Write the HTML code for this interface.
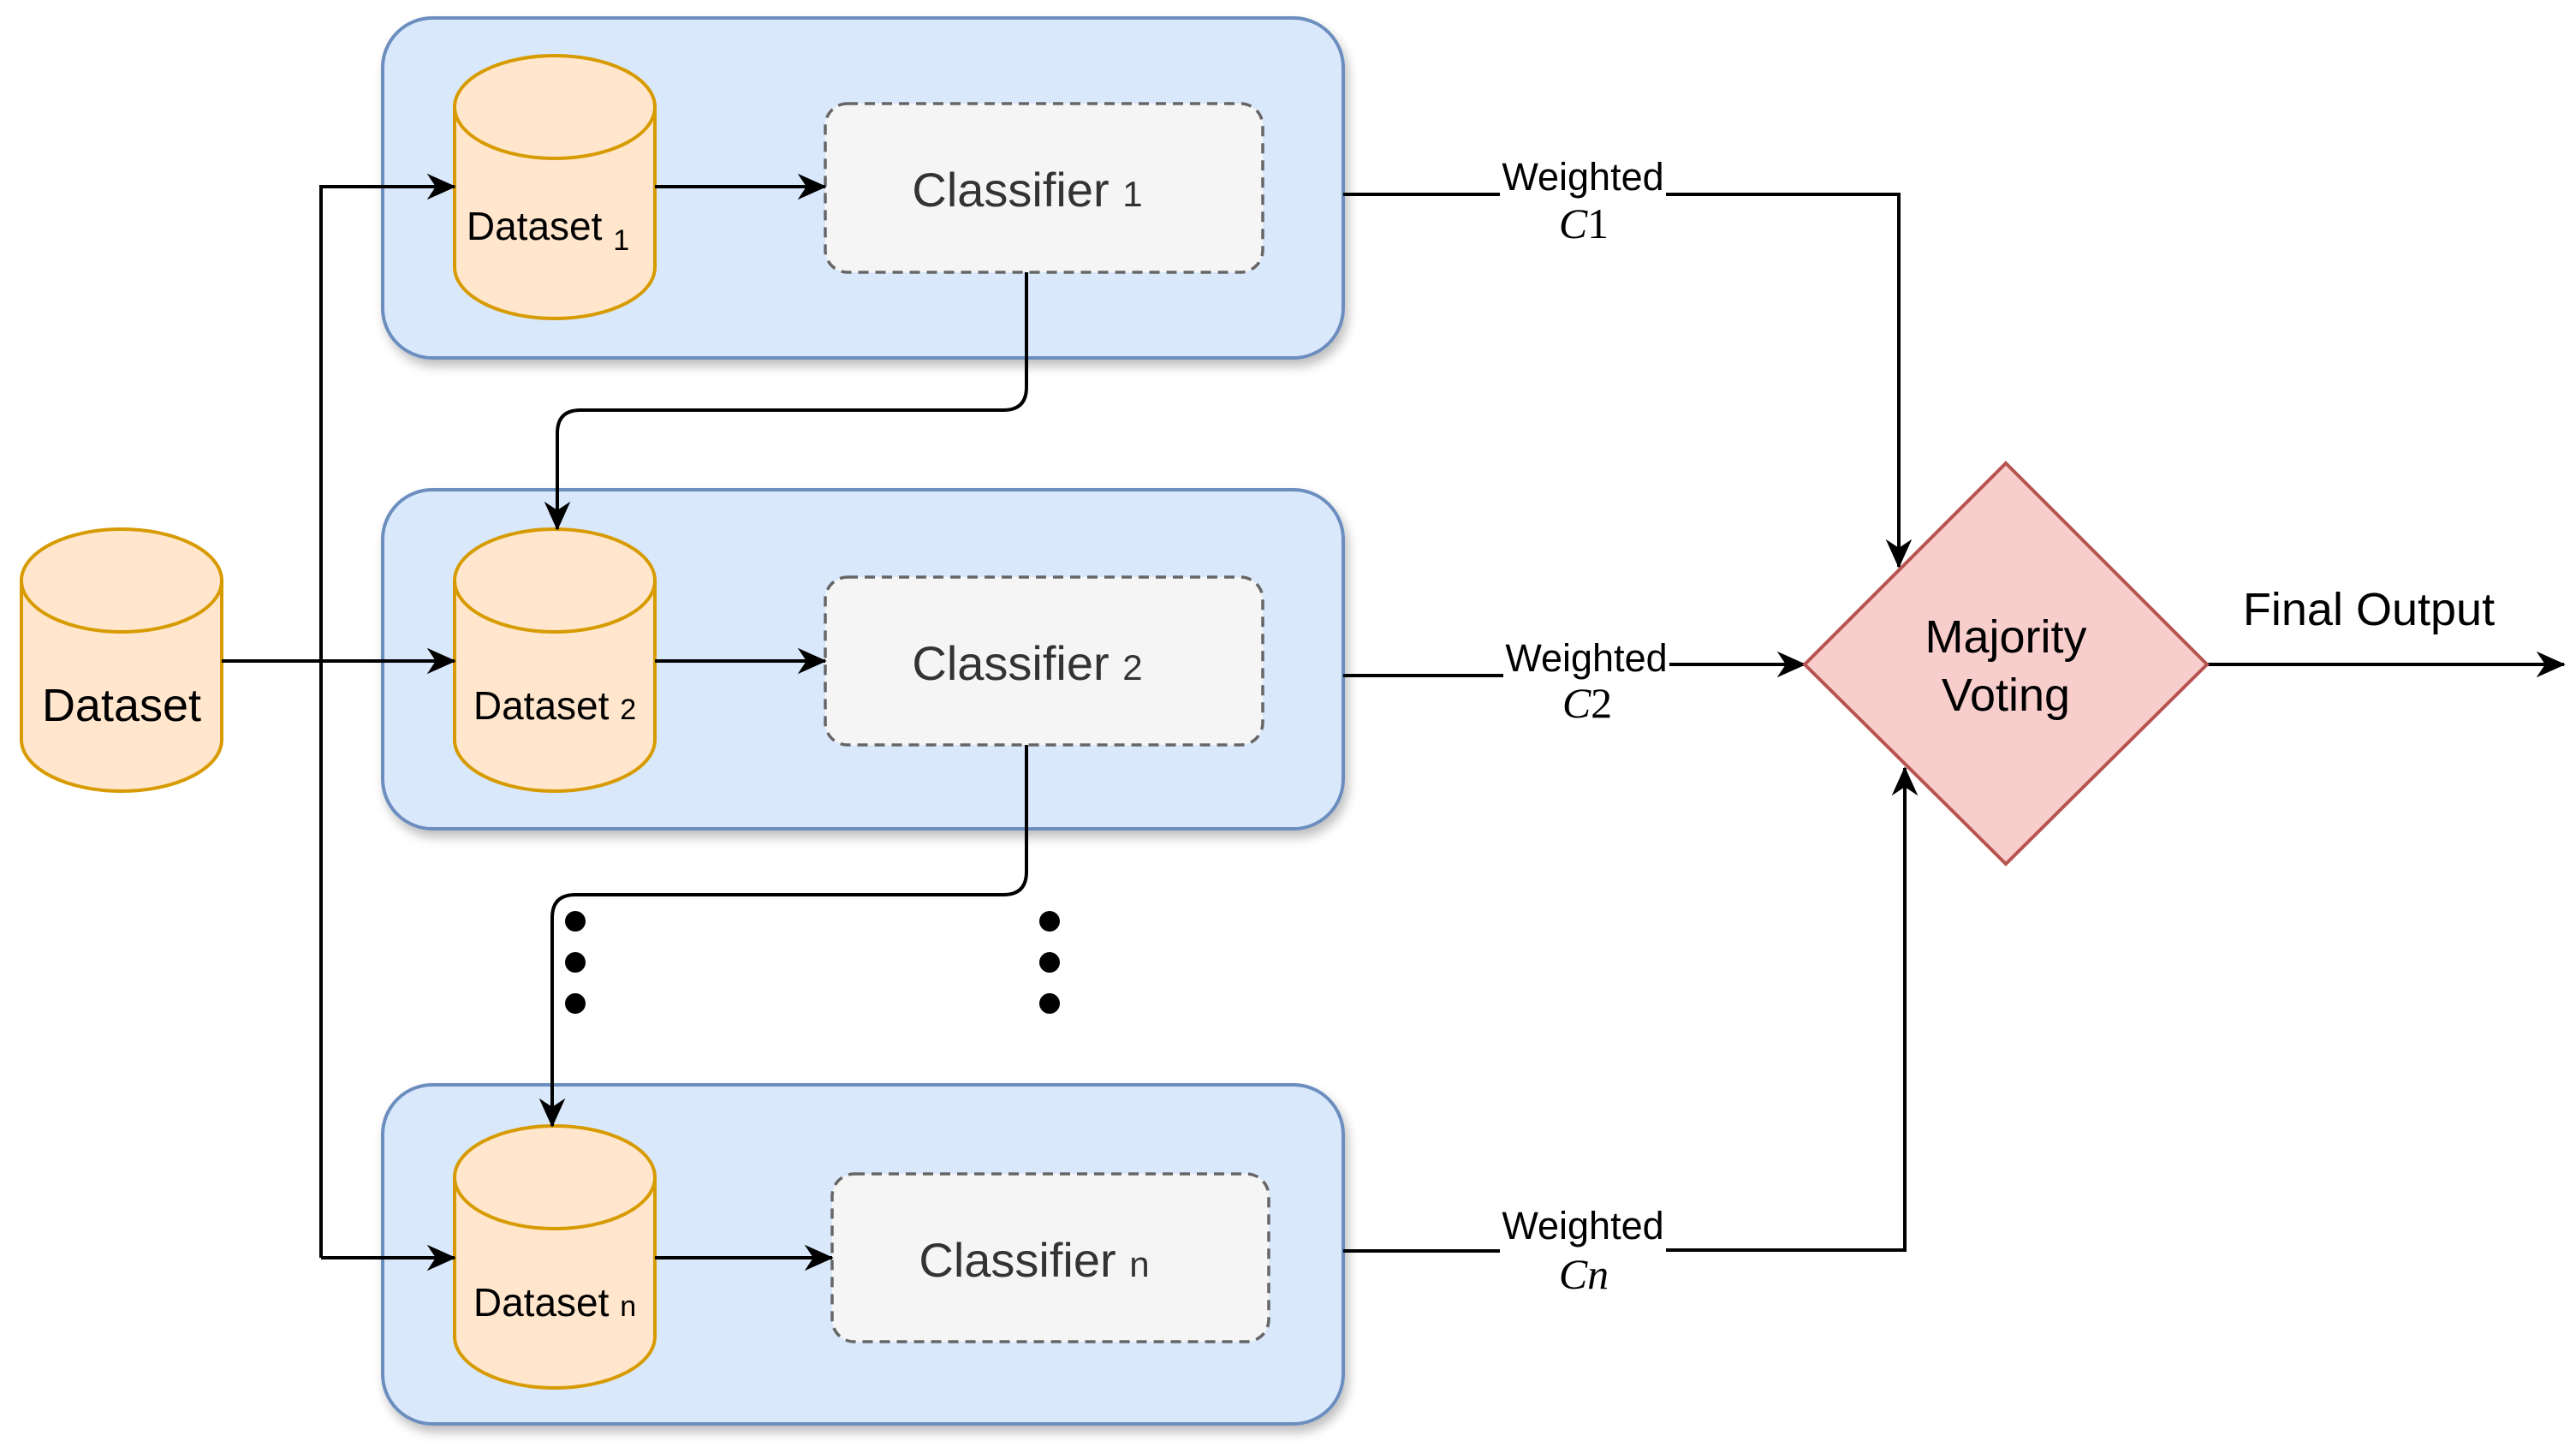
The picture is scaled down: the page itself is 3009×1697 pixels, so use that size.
<!DOCTYPE html>
<html><head><meta charset="utf-8"><style>
html,body{margin:0;padding:0;background:#fff;}
svg{display:block;}
text{font-family:"Liberation Sans",Arial,sans-serif;}
</style></head><body>
<svg width="3009" height="1697" viewBox="0 0 3009 1697" xmlns="http://www.w3.org/2000/svg">
<defs>
<marker id="a" viewBox="0 0 20 20" markerWidth="34" markerHeight="34" refX="19" refY="10" orient="auto" markerUnits="userSpaceOnUse">
<path d="M0,1 L20,10 L0,19 L6,10 Z" fill="#000"/>
</marker>
<filter id="sh" x="-5%" y="-5%" width="110%" height="115%"><feDropShadow dx="4" dy="8" stdDeviation="6" flood-color="#000" flood-opacity="0.25"/></filter>
</defs>

<g fill="#dae8fc" stroke="#6c8ebf" stroke-width="4">
<rect x="447" y="21" width="1122" height="397" rx="58" filter="url(#sh)"/>
<rect x="447" y="572" width="1122" height="396" rx="58" filter="url(#sh)"/>
<rect x="447" y="1267" width="1122" height="396" rx="58" filter="url(#sh)"/>
</g>

<g fill="#f5f5f5" stroke="#666" stroke-width="3.5" stroke-dasharray="12,8">
<rect x="964" y="121" width="511" height="197" rx="26"/>
<rect x="964" y="674" width="511" height="196" rx="26"/>
<rect x="972" y="1371" width="510" height="196" rx="26"/>
</g>
<g font-size="56" fill="#333" text-anchor="middle">
<text x="1200" y="241">Classifier <tspan font-size="42">1</tspan></text>
<text x="1200" y="794">Classifier <tspan font-size="42">2</tspan></text>
<text x="1208" y="1491">Classifier <tspan font-size="42">n</tspan></text>
</g>

<g fill="#ffe6cc" stroke="#d79b00" stroke-width="4">
<path d="M531,125 A117,60 0 0 1 765,125 L765,312 A117,60 0 0 1 531,312 Z"/>
<path d="M531,125 A117,60 0 0 0 765,125" fill="none"/>
<path d="M531,678 A117,60 0 0 1 765,678 L765,864 A117,60 0 0 1 531,864 Z"/>
<path d="M531,678 A117,60 0 0 0 765,678" fill="none"/>
<path d="M531,1375 A117,60 0 0 1 765,1375 L765,1561 A117,60 0 0 1 531,1561 Z"/>
<path d="M531,1375 A117,60 0 0 0 765,1375" fill="none"/>
<path d="M25,678 A117,60 0 0 1 259,678 L259,864 A117,60 0 0 1 25,864 Z"/>
<path d="M25,678 A117,60 0 0 0 259,678" fill="none"/>
</g>
<g font-size="46" fill="#000" text-anchor="middle">
<text x="640" y="280">Dataset <tspan font-size="34" dy="12">1</tspan></text>
<text x="648" y="840">Dataset <tspan font-size="34">2</tspan></text>
<text x="648" y="1537">Dataset <tspan font-size="34">n</tspan></text>
<text x="142" y="842" font-size="54">Dataset</text>
</g>

<g fill="none" stroke="#000" stroke-width="4">
<path d="M375,1469 L375,218 L531,218" marker-end="url(#a)"/>
<path d="M375,1469 L531,1469" marker-end="url(#a)"/>
<path d="M259,772 L531,772" marker-end="url(#a)"/>
<path d="M765,218 L964,218" marker-end="url(#a)"/>
<path d="M765,772 L964,772" marker-end="url(#a)"/>
<path d="M765,1469 L972,1469" marker-end="url(#a)"/>
<path d="M1199,318 L1199,452 Q1199,479 1172,479 L678,479 Q651,479 651,506 L651,618" marker-end="url(#a)"/>
<path d="M1199,870 L1199,1018 Q1199,1045 1172,1045 L672,1045 Q645,1045 645,1072 L645,1315" marker-end="url(#a)"/>
<path d="M1569,227 L1752,227 M1946,227 L2218,227 L2218,662" marker-end="url(#a)"/>
<path d="M1569,789 L1756,789 M1950,776 L2108,776" marker-end="url(#a)"/>
<path d="M1569,1461 L1752,1461 M1946,1460 L2225,1460 L2225,897" marker-end="url(#a)"/>
<path d="M2578,776 L2995,776" marker-end="url(#a)"/>
</g>

<g fill="#000">
<circle cx="672" cy="1076" r="12"/><circle cx="672" cy="1124" r="12"/><circle cx="672" cy="1172" r="12"/>
<circle cx="1226" cy="1076" r="12"/><circle cx="1226" cy="1124" r="12"/><circle cx="1226" cy="1172" r="12"/>
</g>

<path d="M2343,541 L2578,776 L2343,1009 L2108,776 Z" fill="#f8cecc" stroke="#b85450" stroke-width="4"/>
<g font-size="54" fill="#000" text-anchor="middle">
<text x="2343" y="762">Majority</text>
<text x="2343" y="830">Voting</text>
<text x="2767" y="730">Final Output</text>
</g>

<g font-size="45" fill="#000" text-anchor="middle">
<text x="1849" y="222">Weighted</text>
<text x="1853" y="784">Weighted</text>
<text x="1849" y="1447">Weighted</text>
</g>
<g font-size="50" fill="#000" text-anchor="middle">
<text x="1850" y="278" style="font-family:'Liberation Serif',serif"><tspan font-style="italic">C</tspan>1</text>
<text x="1854" y="838" style="font-family:'Liberation Serif',serif"><tspan font-style="italic">C</tspan>2</text>
<text x="1850" y="1505" style="font-family:'Liberation Serif',serif" font-style="italic">Cn</text>
</g>
</svg>
</body></html>
